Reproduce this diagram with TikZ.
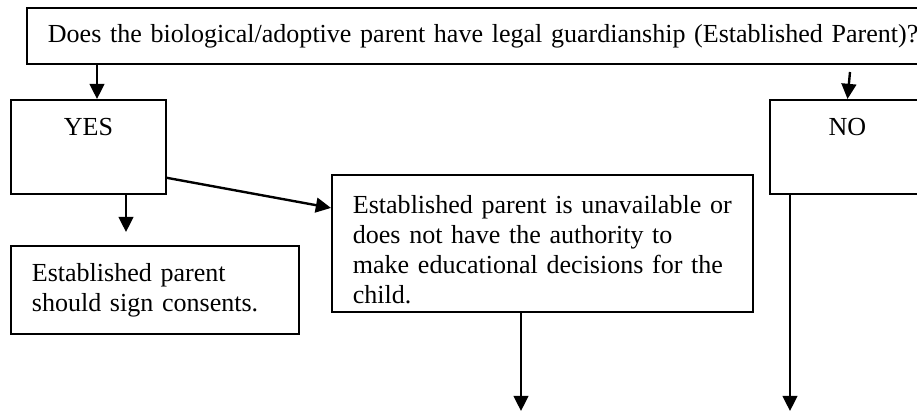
\documentclass[tikz,border=0pt]{standalone}
\usepackage{fontspec}
\setmainfont{Liberation Serif}
\usepackage{tikz}
\usetikzlibrary{positioning, calc}
\usetikzlibrary{arrows.meta}
\tikzstyle{question} = [rectangle, draw=black, line width=0.8pt, font=\fontsize{12pt}{13.8pt}\selectfont, inner xsep=9.7pt, inner ysep=0pt, text width=420pt, minimum height=25.8pt, align=left]
\tikzstyle{answer} = [rectangle, draw=black, line width=0.8pt, font=\fontsize{12pt}{13.8pt}\selectfont, inner sep=0pt, minimum width=71.5pt, text height=16.6pt, text depth=26.7pt]
\tikzstyle{process} = [rectangle, draw=black, line width=0.8pt, font=\fontsize{12pt}{13.8pt}\selectfont, inner xsep=9.7pt, inner ysep=0pt, align=left]
\tikzstyle{arrow} = [line width=1.1pt, -{Triangle[length=7pt, width=6.8pt]}]

\begin{document}
\begin{tikzpicture}[x=0.461pt, y=-0.461pt]
            \useasboundingbox (0,0) rectangle (917,413);
            \node (topq) [question, anchor=north west] at (26,7) {Does the biological/adoptive parent have legal guardianship (Established Parent)?};
            \node (yes) [answer, anchor=north] at (88.5,99) {YES};
            \node (no) [answer, anchor=north] at (847.5,99) {NO};
            \node (sign) [process, anchor=north west, text width=113.4pt, minimum height=40.6pt] at (10,245) {Established parent\\should sign consents.};
            \node (unavail) [process, anchor=north west, text width=174.7pt, text height=17.9pt, text depth=45.3pt] at (331,174) {Established parent is unavailable or\\does not have the authority to\\make educational decisions for the\\child.};

            \coordinate (yesin) at (97,99);
            \coordinate (nostart) at (850,72);
            \coordinate (signtip) at (126,232);
            \coordinate (unavtip) at (521,411);
            \coordinate (notip) at (790,411);

            \draw [arrow] (topq.south -| yesin) -- (yesin);
            \draw [arrow] (nostart) -- (no.north);
            \draw [arrow] (yes.south -| signtip) -- (signtip);
            \draw [arrow] ($(yes.east)+(0,31)$) -- ($(unavail.west)+(0,-35.5)$);
            \draw [arrow] (unavail.south -| unavtip) -- (unavtip);
            \draw [arrow] (no.south -| notip) -- (notip);
        \end{tikzpicture}
\end{document}
